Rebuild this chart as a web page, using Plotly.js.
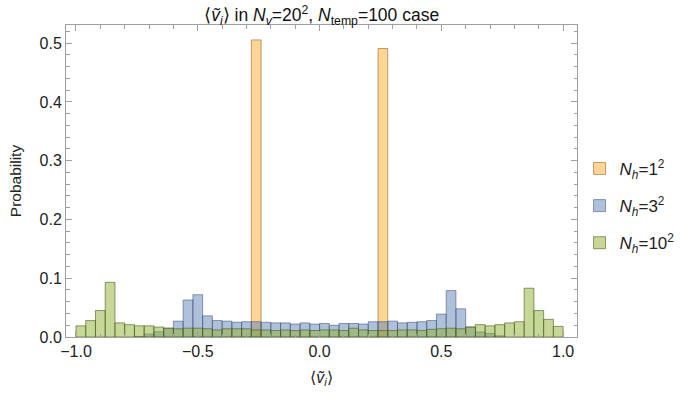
<!DOCTYPE html>
<html>
<head>
<meta charset="utf-8">
<script src="https://cdn.plot.ly/plotly-3.0.1.min.js"></script>
<style>html,body{margin:0;padding:0;background:#fff;}#chart{width:683px;height:398px;}</style>
</head>
<body>
<div id="chart"></div>
<script>
// Histogram bins: 50 bins of width 0.04 on [-1, 1]
const binStart = -1.0;
const binWidth = 0.04;
const binCount = 50;

const seriesNames = ["<i>N</i><sub><i>h</i></sub>=1<sup>2</sup>", "<i>N</i><sub><i>h</i></sub>=3<sup>2</sup>", "<i>N</i><sub><i>h</i></sub>=10<sup>2</sup>"];

// N_h = 1^2
const probNh1 = [0,0,0,0,0,0,0,0,0,0, 0,0,0,0,0,0,0,0,0.5056,0, 0,0,0,0,0,0,0,0,0,0, 0,0.491,0,0,0,0,0,0,0,0, 0,0,0,0,0,0,0,0,0,0];
// N_h = 3^2
const probNh3 = [0,0,0,0,0,0,0.001,0.005,0.009,0.015, 0.027,0.063,0.072,0.036,0.028,0.027,0.025,0.026,0.026,0.025, 0.024,0.024,0.022,0.024,0.022,0.023,0.020,0.023,0.023,0.022, 0.026,0.026,0.027,0.024,0.025,0.026,0.028,0.039,0.079,0.048, 0.017,0.0085,0.006,0.002,0,0,0,0,0,0];
// N_h = 10^2
const probNh10 = [0.019,0.028,0.045,0.093,0.024,0.021,0.019,0.019,0.017,0.015, 0.014,0.015,0.015,0.014,0.012,0.014,0.014,0.014,0.012,0.012, 0.011,0.012,0.011,0.012,0.011,0.012,0.012,0.011,0.015,0.012, 0.011,0.011,0.011,0.012,0.012,0.011,0.013,0.014,0.015,0.014, 0.017,0.021,0.019,0.021,0.024,0.026,0.083,0.045,0.030,0.018];

const binCenters = [];
for (let i = 0; i < binCount; i++) binCenters.push(+(binStart + binWidth * (i + 0.5)).toFixed(4));

const fills = ["rgba(252,178,60,0.55)", "rgba(94,129,181,0.5)", "rgba(143,176,50,0.5)"];
const edges = ["rgba(150,100,40,0.6)", "rgba(60,80,120,0.55)", "rgba(70,90,30,0.6)"];
const allSeries = [probNh1, probNh3, probNh10];

const traces = allSeries.map((vals, k) => ({
  type: "bar",
  x: binCenters,
  y: vals.map(v => v > 0 ? v : null),
  width: binWidth,
  name: seriesNames[k],
  legendgroup: "g" + k,
  marker: {color: fills[k], line: {color: edges[k], width: 1}},
  hoverinfo: "x+y"
}));

const FONT = "Liberation Sans, Arial, sans-serif";
const axisCommon = {
  showline: true, linecolor: "#a0a0a0", linewidth: 1, mirror: "ticks",
  ticks: "inside", tickcolor: "#a0a0a0", ticklen: 6, tickwidth: 1,
  showgrid: false, zeroline: false,
  tickfont: {family: FONT, size: 16, color: "#222"}
};

const layout = {
  width: 683, height: 398,
  margin: {l: 66, r: 106, t: 25, b: 61, autoexpand: false},
  paper_bgcolor: "#fff", plot_bgcolor: "#fff",
  barmode: "overlay",
  bargap: 0,
  title: {text: "⟨<i>ṽ</i><sub><i>i</i></sub>⟩ in <i>N</i><sub><i>v</i></sub>=20<sup>2</sup>, <i>N</i><sub>temp</sub>=100 case",
          font: {family: FONT, size: 17.5, color: "#111"},
          x: 0.471, xanchor: "center", yref: "container", y: 0.962, yanchor: "middle"},
  xaxis: Object.assign({}, axisCommon, {
    range: [-1.041, 1.057], tickvals: [-1, -0.5, 0, 0.5, 1], ticktext: ["−1.0", "−0.5", "0.0", "0.5", "1.0"],
    minor: {dtick: 0.1, tick0: 0, ticks: "inside", ticklen: 3.5, tickcolor: "#a0a0a0"},
    title: {text: "⟨<i>ṽ</i><sub><i>i</i></sub>⟩", font: {family: FONT, size: 16, color: "#222"}, standoff: 12}
  }),
  yaxis: Object.assign({}, axisCommon, {
    range: [0, 0.531], tickvals: [0, 0.1, 0.2, 0.3, 0.4, 0.5], ticktext: ["0.0", "0.1", "0.2", "0.3", "0.4", "0.5"],
    minor: {dtick: 0.02, tick0: 0, ticks: "inside", ticklen: 3.5, tickcolor: "#a0a0a0"},
    title: {text: "Probability", font: {family: FONT, size: 15.5, color: "#222"}, standoff: 14}
  }),
  legend: {x: 1.005, xanchor: "left", y: 0.42, yanchor: "middle", tracegroupgap: 12,
           font: {family: FONT, size: 17, color: "#222"},
           bgcolor: "rgba(0,0,0,0)"},
  showlegend: true
};

Plotly.newPlot("chart", traces, layout, {displayModeBar: false, staticPlot: true});
</script>
</body>
</html>
